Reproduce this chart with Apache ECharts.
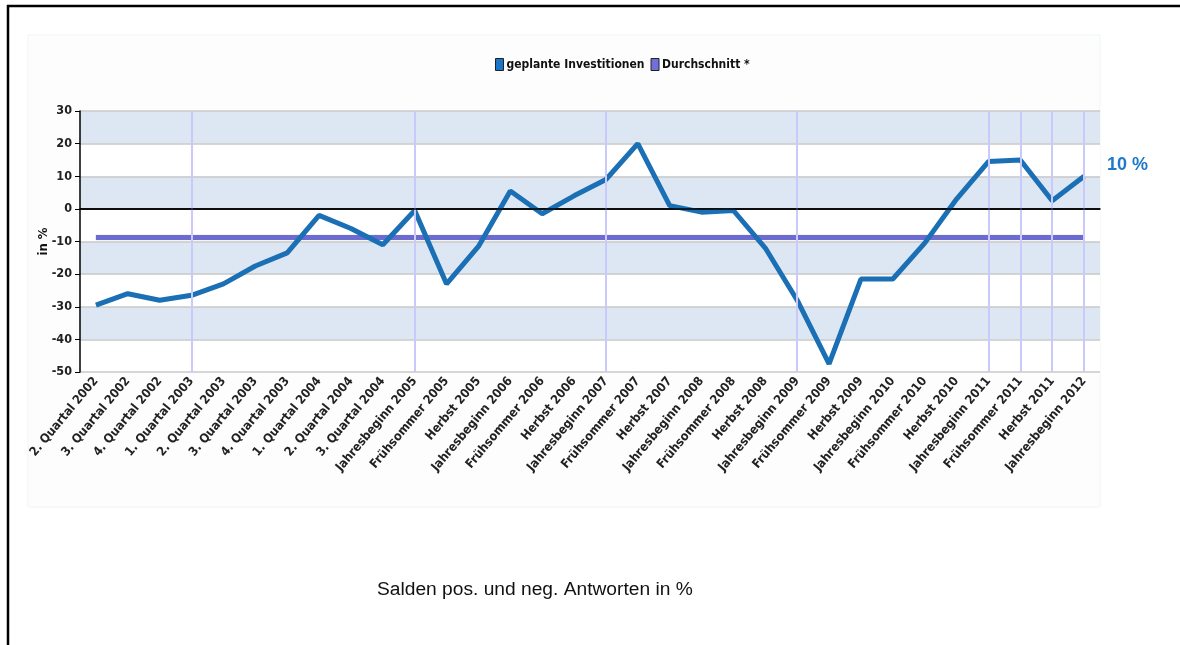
<!DOCTYPE html>
<html>
<head>
<meta charset="utf-8">
<script src="https://cdn.jsdelivr.net/npm/echarts@6/dist/echarts.min.js"></script>
<style>
html,body{margin:0;padding:0;background:#fff;}
#chart{width:1180px;height:645px;}
</style>
</head>
<body>
<div id="chart"></div>
<script>
const categories = [
  '2. Quartal 2002','3. Quartal 2002','4. Quartal 2002','1. Quartal 2003',
  '2. Quartal 2003','3. Quartal 2003','4. Quartal 2003','1. Quartal 2004',
  '2. Quartal 2004','3. Quartal 2004','Jahresbeginn 2005','Frühsommer 2005',
  'Herbst 2005','Jahresbeginn 2006','Frühsommer 2006','Herbst 2006',
  'Jahresbeginn 2007','Frühsommer 2007','Herbst 2007','Jahresbeginn 2008',
  'Frühsommer 2008','Herbst 2008','Jahresbeginn 2009','Frühsommer 2009',
  'Herbst 2009','Jahresbeginn 2010','Frühsommer 2010','Herbst 2010',
  'Jahresbeginn 2011','Frühsommer 2011','Herbst 2011','Jahresbeginn 2012'
];
const investValues = [
  -29.5, -26, -28, -26.5, -23, -17.5, -13.5, -2, -6, -11,
  -0.5, -23, -11.5, 5.5, -1.5, 4, 9, 20, 1, -1,
  -0.5, -12, -28, -47.5, -21.5, -21.5, -10.5, 3, 14.5, 15,
  2.5, 10
];
const averageValue = -8.8;
const markedCategories = [
  '1. Quartal 2003','Jahresbeginn 2005','Jahresbeginn 2007','Jahresbeginn 2009',
  'Jahresbeginn 2011','Frühsommer 2011','Herbst 2011','Jahresbeginn 2012'
];
const yTicks = { min: -50, max: 30, interval: 10 };

const narrow = "'Liberation Sans Narrow','Arial Narrow','DejaVu Sans Condensed',sans-serif";

const chart = echarts.init(document.getElementById('chart'), null, {renderer: 'canvas'});
chart.setOption({
  animation: false,
  backgroundColor: '#ffffff',
  graphic: [
    { type: 'rect', z: -10, shape: { x: 28, y: 35, width: 1072, height: 472 },
      style: { fill: '#fdfdfd', stroke: '#eef7ee', lineWidth: 1 } },
    { type: 'line', z: 100, shape: { x1: 7, y1: 6, x2: 1180, y2: 6 },
      style: { stroke: '#000', lineWidth: 2.5 } },
    { type: 'line', z: 100, shape: { x1: 8, y1: 5, x2: 8, y2: 645 },
      style: { stroke: '#000', lineWidth: 2.5 } }
  ],
  title: {
    text: 'Salden pos. und neg. Antworten in %',
    left: 372, top: 575,
    textStyle: { fontFamily: "'Liberation Sans',Arial,sans-serif", fontSize: 19.2, fontWeight: 'normal', color: '#111' }
  },
  legend: {
    top: 53, left: 490,
    itemWidth: 8, itemHeight: 12, itemGap: 6,
    icon: 'rect',
    textStyle: { fontFamily: narrow, fontWeight: 'bold', fontSize: 12, color: '#111', padding: [0, 0, 0, -2] },
    data: [
      { name: 'geplante Investitionen', itemStyle: { color: '#1b75c8', borderColor: '#222', borderWidth: 1 } },
      { name: 'Durchschnitt *', itemStyle: { color: '#7070d8', borderColor: '#222', borderWidth: 1 } }
    ]
  },
  grid: { left: 80, right: 80, top: 111, bottom: 273 },
  xAxis: {
    type: 'category',
    data: categories,
    boundaryGap: true,
    axisLine: { lineStyle: { color: '#000', width: 1.5 } },
    axisTick: { alignWithLabel: true, length: 5, lineStyle: { color: '#000' } },
    axisLabel: { rotate: 50, interval: 0, margin: 7, fontFamily: narrow, fontWeight: 'bold', fontSize: 12.5, color: '#222' },
    splitLine: { show: false }
  },
  yAxis: {
    type: 'value',
    min: yTicks.min, max: yTicks.max, interval: yTicks.interval,
    name: 'in %', nameLocation: 'middle', nameRotate: 90, nameGap: 30, nameMoveOverlap: false,
    nameTextStyle: { fontFamily: narrow, fontWeight: 'bold', fontSize: 13, color: '#111' },
    axisLine: { show: true, lineStyle: { color: '#000', width: 1.5 } },
    axisTick: { show: true, length: 5, lineStyle: { color: '#000' } },
    axisLabel: { margin: 8, fontFamily: narrow, fontWeight: 'bold', fontSize: 12.5, color: '#222' },
    splitLine: { lineStyle: { color: '#c8c8c8', width: 1.5 } },
    splitArea: { show: true, areaStyle: { color: ['#ffffff', '#dde7f3'] } }
  },
  series: [
    {
      name: 'Durchschnitt *',
      type: 'line',
      data: categories.map(() => averageValue),
      symbol: 'none',
      z: 3,
      lineStyle: { color: '#6b6bd0', width: 5, shadowColor: 'rgba(60,60,60,0.5)', shadowBlur: 1 },
      itemStyle: { color: '#6b6bd0' },
      markLine: {
        silent: true, symbol: 'none', animation: false,
        label: { show: false },
        lineStyle: { color: '#c9c9fb', width: 2, type: 'solid' },
        data: markedCategories.map(c => ({ xAxis: c }))
      }
    },
    {
      name: 'geplante Investitionen',
      type: 'line',
      data: investValues,
      symbol: 'none',
      z: 4,
      lineStyle: { color: '#1b6fb5', width: 5 },
      itemStyle: { color: '#1b6fb5' },
      endLabel: {
        show: true, formatter: '{c} %', offset: [15, -11],
        fontFamily: "'Liberation Sans',Arial,sans-serif", fontSize: 18, fontWeight: 'bold', color: '#1f78c8'
      },
      markLine: {
        silent: true, symbol: 'none', animation: false,
        label: { show: false },
        lineStyle: { color: '#000', width: 1.5, type: 'solid' },
        data: [{ yAxis: 0 }]
      }
    }
  ]
});
</script>
</body>
</html>
